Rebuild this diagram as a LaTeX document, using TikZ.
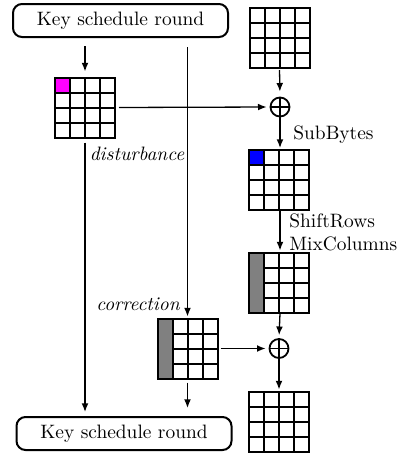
\documentclass[tikz,border=0pt]{standalone}
\usetikzlibrary{arrows.meta,calc}

\definecolor{cellmag}{RGB}{255,0,255}
\definecolor{cellblue}{RGB}{0,0,255}
\definecolor{colgray}{RGB}{128,128,128}

% 4x4 state grid lines, drawn inside the node's own border;
% horizontal lines start at fraction \hstart of the width
\newcommand\hstart{0}
\newcommand\drawcellgrid{%
  \foreach \k in {0.25,0.5,0.75}{
    \draw[line width=1pt]
      ($(path picture bounding box.north west)!\k!(path picture bounding box.north east)$) --
      ($(path picture bounding box.south west)!\k!(path picture bounding box.south east)$);
    \draw[line width=1pt]
      ($($(path picture bounding box.north west)!\k!(path picture bounding box.south west)$)!\hstart!($(path picture bounding box.north east)!\k!(path picture bounding box.south east)$)$) --
      ($(path picture bounding box.north east)!\k!(path picture bounding box.south east)$);
  }}

\tikzset{
  x=0.5pt, y=-0.5pt,
  every node/.style={font=\fontsize{9.7pt}{11.5pt}\selectfont},
  state/.style={draw, line width=1pt, minimum size=30pt, inner sep=0pt,
    path picture={#1\drawcellgrid}},
  state/.default={},
  firstcell/.style={state={\fill[#1] (path picture bounding box.north west) rectangle
      ($(path picture bounding box.north west)!0.25!(path picture bounding box.south east)$);}},
  firstcol/.style={state={\renewcommand\hstart{0.25}\fill[#1] (path picture bounding box.north west) rectangle
      ($(path picture bounding box.south west)!0.25!(path picture bounding box.south east)$);}},
  keybox/.style={draw, line width=1pt, rounded corners=4.5pt, minimum width=107.5pt,
    minimum height=16.5pt, inner sep=0pt},
  xorop/.style={draw, circle, line width=0.9pt, minimum size=9.5pt, inner sep=0pt,
    path picture={\draw[line width=0.9pt] (path picture bounding box.north) -- (path picture bounding box.south)
      (path picture bounding box.west) -- (path picture bounding box.east);}},
  arr/.style={line width=0.65pt, -{Latex[length=4.3pt,width=3.4pt]}, shorten >=1.5pt},
  lbl/.style={inner sep=0pt},
}

\begin{document}
\begin{tikzpicture}
\useasboundingbox (0,0) rectangle (399,456);

% key schedule
\node[keybox] (ks1) at (120.5,20.5) {Key schedule round};
\node[keybox] (ks2) at (124,433.5) {Key schedule round};

% state matrices
\node[state] (p0) at (279.5,38) {};
\node[firstcell=cellmag] (d) at (85,107.5) {};
\node[firstcell=cellblue] (s1) at (278.5,180) {};
\node[firstcol=colgray] (s2) at (278.5,282.5) {};
\node[firstcol=colgray] (c) at (187.5,348.5) {};
\node[state] (s3) at (279,421.5) {};

% xor gates
\node[xorop] (x1) at (280,107) {};
\node[xorop] (x2) at (279,348.5) {};

% labels
\node[lbl, font=\fontsize{9.7pt}{11.5pt}\selectfont\itshape] (ldist) at (137,154) {disturbance};
\node[lbl, font=\fontsize{9.7pt}{11.5pt}\selectfont\itshape] (lcorr) at (138,304) {correction};
\node[lbl, anchor=west] (lsub) at (293,135) {SubBytes};
\node[lbl, anchor=west, align=left] (lmix) at (289,232) {ShiftRows\\MixColumns};

% key schedule paths
\coordinate (kd) at ($(ks1.south -| d.north)+(0,8)$);
\coordinate (kc) at ($(ks1.south -| c.north)+(0,9)$);
\draw[arr, shorten >=2.5pt] (kd) -- (d.north);
\draw[arr, shorten >=0.5pt] (kc) -- (c.north);
\draw[arr, shorten <=2pt, shorten >=2pt] (d.south) -- (d.south |- ks2.north);
\draw[arr, shorten <=1.5pt, shorten >=4pt] (c.south) -- (c.south |- ks2.north);

% state paths
\draw[arr, shorten <=1.5pt] (d.east) -- (x1.west);
\draw[arr, shorten <=0.5pt, shorten >=2.5pt] (p0.south) -- (x1.north);
\draw[arr, shorten >=0.5pt] (x1.south) -- (s1.north -| x1.south);
\draw[arr, shorten >=0.5pt] (s1.south -| x1.south) -- (s2.north -| x1.south);
\draw[arr] (s2.south -| x1.south) -- (x2.north);
\draw[arr, shorten <=1pt] (c.east) -- (x2.west);
\draw[arr, shorten >=0.5pt] (x2.south) -- (s3.north);
\end{tikzpicture}
\end{document}
